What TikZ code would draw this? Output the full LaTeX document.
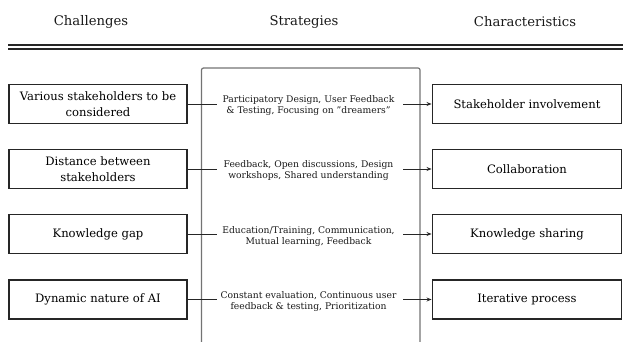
\documentclass[tikz,border=0pt]{standalone}
\usepackage{fontspec}
\setmainfont{DejaVu Serif}
\usetikzlibrary{arrows.meta}
\begin{document}
\begin{tikzpicture}[x=1pt,y=1pt,
  head/.style={font=\fontsize{13.2}{15}\selectfont, text=black!90},
  cbox/.style={draw=black!85, line width=1.9pt, minimum width=178pt, minimum height=39pt,
    align=center, font=\fontsize{11.6}{16}\selectfont, inner sep=2pt, text=black},
  kbox/.style={cbox, minimum width=189pt},
  strat/.style={align=center, font=\fontsize{9.2}{11}\selectfont, text=black!90},
  link/.style={draw=black!85, line width=0.9pt},
  arr/.style={link, -{Stealth[length=5pt,width=4pt]}}
]
\useasboundingbox (0,0) rectangle (623,-342);

% column headings and double rule
\node[head] (hc) at (91,-22) {Challenges};
\node[head] (hs) at (304,-22) {Strategies};
\node[head] (hk) at (525,-22) {Characteristics};
\draw[line width=1.7pt, black!85] (8,-45) -- (623,-45);
\draw[line width=1.4pt, black!85] (8,-49) -- (623,-49);

% strategies panel
\draw[line width=1.2pt, black!55, rounded corners=2pt] (201.5,-360) |- (420,-68) -- (420,-360);

% challenges
\node[cbox] (c1) at (98,-104)   {Various stakeholders to be\\considered};
\node[cbox] (c2) at (98,-169)   {Distance between\\stakeholders};
\node[cbox] (c3) at (98,-234)   {Knowledge gap};
\node[cbox] (c4) at (98,-299.5) {Dynamic nature of AI};

% characteristics
\node[kbox] (k1) at (527,-104)   {Stakeholder involvement};
\node[kbox] (k2) at (527,-169)   {Collaboration};
\node[kbox] (k3) at (527,-234)   {Knowledge sharing};
\node[kbox] (k4) at (527,-299.5) {Iterative process};

% strategies
\node[strat] (s1) at (308.5,-106)   {Participatory Design, User Feedback\\\& Testing, Focusing on "dreamers"};
\node[strat] (s2) at (308.5,-171)   {Feedback, Open discussions, Design\\workshops, Shared understanding};
\node[strat] (s3) at (308.5,-236.5) {Education/Training, Communication,\\Mutual learning, Feedback};
\node[strat] (s4) at (308.5,-301.5) {Constant evaluation, Continuous user\\feedback \& testing, Prioritization};

% connectors
\foreach \i/\y in {1/-104,2/-169,3/-234,4/-299.5}{
  \coordinate (l\i) at (217,\y);
  \coordinate (r\i) at (403,\y);
  \draw[link] (c\i.east) -- (l\i);
  \draw[arr] (r\i) -- (k\i.west);
}
\end{tikzpicture}
\end{document}
